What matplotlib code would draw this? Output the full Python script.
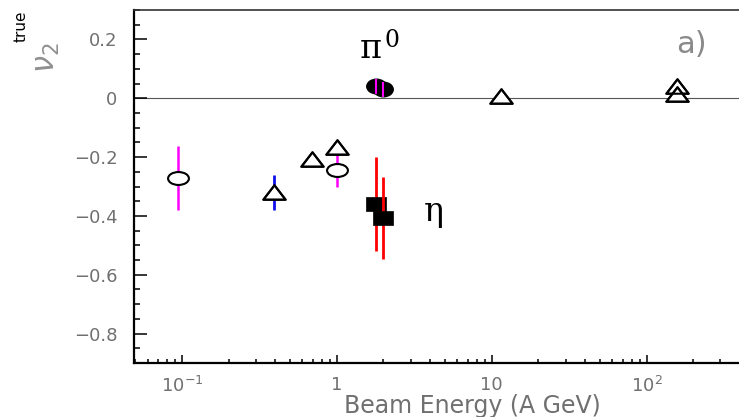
import numpy as np
import matplotlib
matplotlib.use("Agg")
import matplotlib.pyplot as plt
from matplotlib.path import Path
from matplotlib.ticker import LogLocator, FixedLocator, MultipleLocator, NullFormatter, FixedFormatter

# ---------------- data ----------------
# open triangles (other experiments)
tri_x = [0.39, 0.69, 1.0, 11.4, 158, 158]
tri_y = [-0.32, -0.205, -0.165, 0.008, 0.041, 0.014]
# blue error bar on the 0.39 A GeV triangle
tri_err_x = [0.39]
tri_err_y = [-0.32]
tri_err = [0.06]
# open circles with magenta error bars
circ_x = [0.094, 1.0]
circ_y = [-0.271, -0.243]
circ_err = [0.108, 0.057]
# pi0 (filled circles)
pi0_x = [1.79, 1.98]
pi0_y = [0.04, 0.03]
pi0_err = [0.025, 0.025]
# eta (filled squares)
eta_x = [1.79, 1.98]
eta_y = [-0.36, -0.407]
eta_err = [0.16, 0.14]

y_ticks = [0.2, 0.0, -0.2, -0.4, -0.6, -0.8]
y_ticklabels = ["0.2", "0", "\u22120.2", "\u22120.4", "\u22120.6", "\u22120.8"]
x_ticks = [0.1, 1, 10, 100]
x_ticklabels = [r"$10^{-1}$", "1", "10", r"$10^{2}$"]

# ---------------- markers ----------------
tri_path = Path([(0, 0.5), (-0.77, -0.5), (0.77, -0.5), (0, 0.5)],
                [Path.MOVETO, Path.LINETO, Path.LINETO, Path.CLOSEPOLY])
uc = Path.unit_circle()
ell_path = Path(uc.vertices * np.array([1.0, 0.62]), uc.codes)
ell_fill_path = Path(uc.vertices * np.array([1.0, 0.75]), uc.codes)
sq_path = Path([(-1, -0.7), (1, -0.7), (1, 0.7), (-1, 0.7), (-1, -0.7)],
               [Path.MOVETO, Path.LINETO, Path.LINETO, Path.LINETO, Path.CLOSEPOLY])

W, H = 739, 417
fig = plt.figure(figsize=(W / 100, H / 100), dpi=100)
ax = fig.add_axes([134 / W, 54 / H, 605 / W, 353 / H])
ax.set_xscale("log")
ax.set_xlim(0.049, 395)
ax.set_ylim(-0.9, 0.3)

ax.axhline(0.0, color="#555555", lw=0.8, zorder=1)

# blue error bar
ax.errorbar(tri_err_x, tri_err_y, yerr=tri_err, fmt="none", ecolor="#1010ee",
            elinewidth=2.0, capsize=0, zorder=2)
# magenta error bars of open circles
ax.errorbar(circ_x, circ_y, yerr=circ_err, fmt="none", ecolor="#ff00ff",
            elinewidth=1.8, capsize=0, zorder=2)
# open triangles (white interior hides error bars)
ax.plot(tri_x, tri_y, linestyle="none", marker=tri_path, markersize=16,
        markerfacecolor="white", markeredgecolor="black", markeredgewidth=1.5, zorder=3)
# outlines again on top so overlapping triangles both show
ax.plot(tri_x, tri_y, linestyle="none", marker=tri_path, markersize=16,
        markerfacecolor="none", markeredgecolor="black", markeredgewidth=1.5, zorder=3.5)
# open circles
ax.plot(circ_x, circ_y, linestyle="none", marker=ell_path, markersize=15,
        markerfacecolor="white", markeredgecolor="black", markeredgewidth=1.5, zorder=3)

# pi0 filled circles
ax.plot(pi0_x, pi0_y, linestyle="none", marker=ell_fill_path, markersize=14,
        markerfacecolor="black", markeredgecolor="black", zorder=4)
ax.errorbar(pi0_x, pi0_y, yerr=pi0_err, fmt="none", ecolor="#ff00ff",
            elinewidth=1.5, capsize=0, zorder=5)

# eta squares with red error bars
for i in range(len(eta_x)):
    ax.errorbar([eta_x[i]], [eta_y[i]], yerr=[eta_err[i]], fmt="none", ecolor="#ff0000",
                elinewidth=2.0, capsize=0, zorder=4 + 2 * i)
    ax.plot([eta_x[i]], [eta_y[i]], linestyle="none", marker=sq_path, markersize=15,
            markerfacecolor="black", markeredgecolor="black", markeredgewidth=0.5,
            zorder=5 + 2 * i)

# ---------------- axes styling ----------------
ax.spines["right"].set_visible(False)
ax.spines["left"].set_linewidth(1.6)
ax.spines["bottom"].set_linewidth(1.6)
ax.spines["top"].set_linewidth(1.2)
ax.spines["top"].set_color("#333333")

ax.yaxis.set_major_locator(FixedLocator(y_ticks))
ax.yaxis.set_major_formatter(FixedFormatter(y_ticklabels))
ax.yaxis.set_minor_locator(MultipleLocator(0.05))
ax.xaxis.set_major_locator(FixedLocator(x_ticks))
ax.xaxis.set_major_formatter(FixedFormatter(x_ticklabels))
ax.xaxis.set_minor_locator(LogLocator(base=10, subs=np.arange(2, 10), numticks=20))
ax.xaxis.set_minor_formatter(NullFormatter())

gray = "#707070"
ax.tick_params(axis="y", which="major", direction="in", length=9.4, width=1.1,
               pad=12, labelsize=13, labelcolor=gray)
ax.tick_params(axis="y", which="minor", direction="in", length=4.3, width=1.1)
ax.tick_params(axis="x", which="major", direction="in", length=5.8, width=1.1,
               pad=9, labelsize=13, labelcolor=gray)
ax.tick_params(axis="x", which="minor", direction="in", length=3.0, width=1.1)

# ---------------- texts ----------------
serif = "DejaVu Serif"
ax.text(1.41, 0.136, "\u03c0", fontsize=24, family=serif, color="black",
        ha="left", va="baseline")
ax.text(2.03, 0.175, "0", fontsize=17, family=serif, color="black",
        ha="left", va="baseline")
ax.text(3.64, -0.416, "\u03b7", fontsize=24, family=serif, color="black",
        ha="left", va="baseline")
ax.text(154, 0.153, "a)", fontsize=22, color="#8a8a8a", ha="left", va="baseline")

# y label
fig.text(47 / W, 1 - 58 / H, r"$\nu_{2}$", fontsize=22, color="#909090",
         rotation=90, ha="center", va="center")
fig.text(21 / W, 1 - 26 / H, "true", fontsize=11, color="black",
         rotation=90, ha="center", va="center")

# x label
fig.text(472 / W, 4 / H, "Beam Energy (A GeV)", fontsize=17, color=gray,
         ha="center", va="baseline")

fig.savefig("out.png", dpi=100)
